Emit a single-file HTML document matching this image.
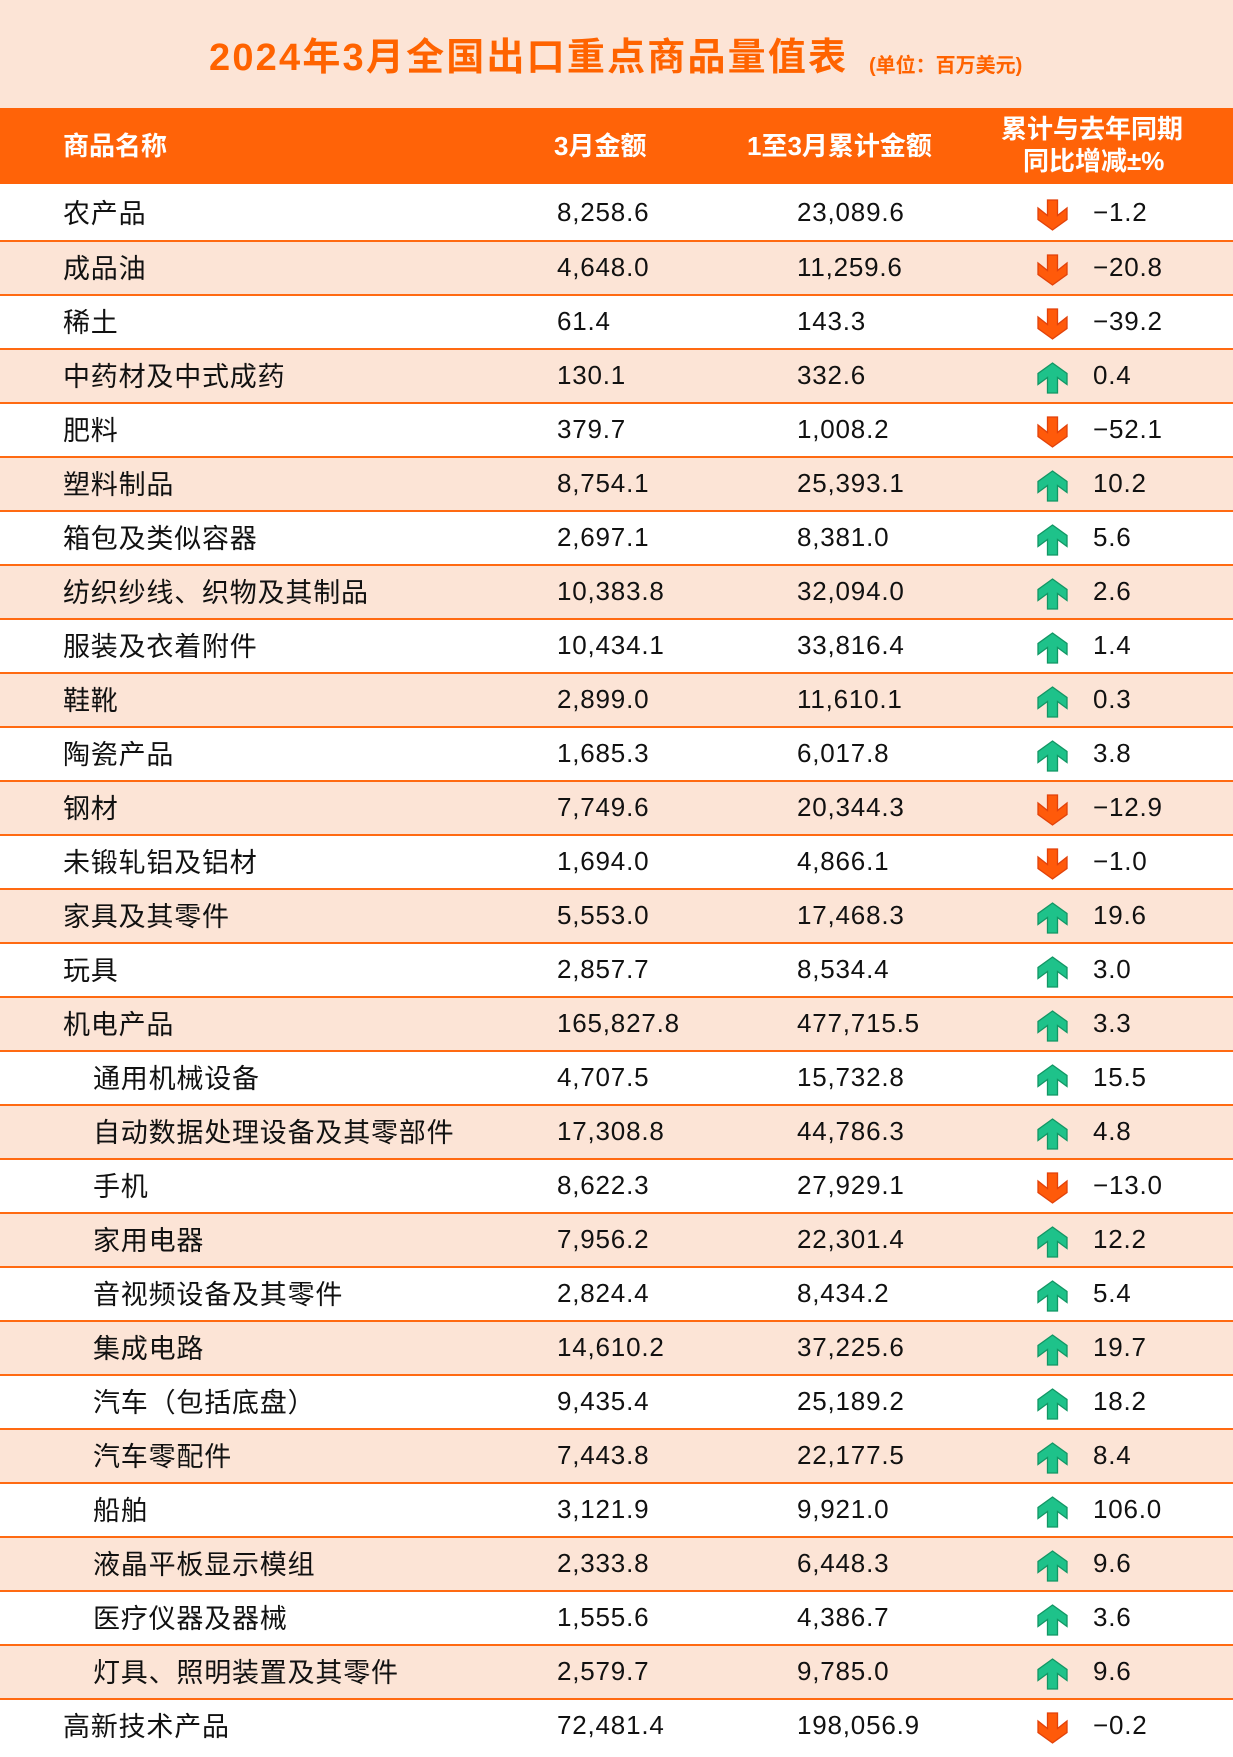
<!DOCTYPE html>
<html lang="zh">
<head>
<meta charset="utf-8">
<style>
*{margin:0;padding:0;box-sizing:border-box}
html,body{width:1233px;height:1757px;overflow:hidden;background:#fff}
#w{position:relative;width:1233px;height:1757px;overflow:hidden;background:#fff;font-family:"Liberation Sans","Noto Sans CJK SC",sans-serif;color:#111}
#tb{position:absolute;left:0;top:0;width:1233px;height:108px;background:#fce4d6}
#title{position:absolute;left:209px;top:33px;font-size:38px;line-height:50px;font-weight:bold;color:#ff6300;letter-spacing:2.2px;white-space:nowrap}
#sub{position:absolute;left:869px;top:52px;font-size:20px;line-height:28px;font-weight:bold;color:#ff6300;white-space:nowrap}
#hd{position:absolute;left:0;top:108px;width:1233px;height:76px;background:#ff6308;color:#fff;font-weight:bold;font-size:26px}
#hd span{position:absolute;white-space:nowrap;line-height:32px}
.r{position:absolute;left:0;width:1233px;height:54px;border-top:2px solid #ff6a12;background:#fff}
.r.alt{background:#fce4d6}
.r.first{top:184px;height:56px;border-top:0}
.r span{position:absolute;top:-3px;line-height:56px;white-space:nowrap}
.r span.n{top:-1px}
.r.first span{top:0px}
.r.first span.n{top:2px}
.n{left:63px;font-size:27px;letter-spacing:0.8px}
.n.in{left:93px}
.a{left:557px;font-size:26px;letter-spacing:0.8px}
.b{left:797px;font-size:26px;letter-spacing:0.8px}
.c{left:1093px;font-size:26px;letter-spacing:0.8px}
.r svg{position:absolute;left:1037px;top:12px;width:31px;height:32px}
.r.first svg{top:15px}
</style>
</head>
<body>
<div id="w">
<svg width="0" height="0" style="position:absolute">
<defs>
<polygon id="dn" points="10.5,1 20.5,1 20.5,16.5 30,9 30,20.5 15.5,31 1,20.5 1,9 10.5,16.5" fill="#ff5a0a" stroke="#e2420a" stroke-width="1.3" stroke-linejoin="miter"/>
<polygon id="up" points="15.5,1 30,11.5 30,22.5 20.5,15.5 20.5,31 10.5,31 10.5,15.5 1,22.5 1,11.5" fill="#1ec28a" stroke="#129664" stroke-width="1.3" stroke-linejoin="miter"/>
</defs>
</svg>
<div id="tb"></div>
<div id="title">2024年3月全国出口重点商品量值表</div>
<div id="sub">(单位：百万美元)</div>
<div id="hd">
<span style="left:63px;top:22px">商品名称</span>
<span style="left:554px;top:22px">3月金额</span>
<span style="left:747px;top:22px">1至3月累计金额</span>
<span style="left:1001px;top:5px">累计与去年同期</span>
<span style="left:1023px;top:37px">同比增减±%</span>
</div>

<div class="r first"><span class="n">农产品</span><span class="a">8,258.6</span><span class="b">23,089.6</span><svg viewBox="0 0 31 32"><use href="#dn"/></svg><span class="c">−1.2</span></div>
<div class="r alt" style="top:240px"><span class="n">成品油</span><span class="a">4,648.0</span><span class="b">11,259.6</span><svg viewBox="0 0 31 32"><use href="#dn"/></svg><span class="c">−20.8</span></div>
<div class="r" style="top:294px"><span class="n">稀土</span><span class="a">61.4</span><span class="b">143.3</span><svg viewBox="0 0 31 32"><use href="#dn"/></svg><span class="c">−39.2</span></div>
<div class="r alt" style="top:348px"><span class="n">中药材及中式成药</span><span class="a">130.1</span><span class="b">332.6</span><svg viewBox="0 0 31 32"><use href="#up"/></svg><span class="c">0.4</span></div>
<div class="r" style="top:402px"><span class="n">肥料</span><span class="a">379.7</span><span class="b">1,008.2</span><svg viewBox="0 0 31 32"><use href="#dn"/></svg><span class="c">−52.1</span></div>
<div class="r alt" style="top:456px"><span class="n">塑料制品</span><span class="a">8,754.1</span><span class="b">25,393.1</span><svg viewBox="0 0 31 32"><use href="#up"/></svg><span class="c">10.2</span></div>
<div class="r" style="top:510px"><span class="n">箱包及类似容器</span><span class="a">2,697.1</span><span class="b">8,381.0</span><svg viewBox="0 0 31 32"><use href="#up"/></svg><span class="c">5.6</span></div>
<div class="r alt" style="top:564px"><span class="n">纺织纱线、织物及其制品</span><span class="a">10,383.8</span><span class="b">32,094.0</span><svg viewBox="0 0 31 32"><use href="#up"/></svg><span class="c">2.6</span></div>
<div class="r" style="top:618px"><span class="n">服装及衣着附件</span><span class="a">10,434.1</span><span class="b">33,816.4</span><svg viewBox="0 0 31 32"><use href="#up"/></svg><span class="c">1.4</span></div>
<div class="r alt" style="top:672px"><span class="n">鞋靴</span><span class="a">2,899.0</span><span class="b">11,610.1</span><svg viewBox="0 0 31 32"><use href="#up"/></svg><span class="c">0.3</span></div>
<div class="r" style="top:726px"><span class="n">陶瓷产品</span><span class="a">1,685.3</span><span class="b">6,017.8</span><svg viewBox="0 0 31 32"><use href="#up"/></svg><span class="c">3.8</span></div>
<div class="r alt" style="top:780px"><span class="n">钢材</span><span class="a">7,749.6</span><span class="b">20,344.3</span><svg viewBox="0 0 31 32"><use href="#dn"/></svg><span class="c">−12.9</span></div>
<div class="r" style="top:834px"><span class="n">未锻轧铝及铝材</span><span class="a">1,694.0</span><span class="b">4,866.1</span><svg viewBox="0 0 31 32"><use href="#dn"/></svg><span class="c">−1.0</span></div>
<div class="r alt" style="top:888px"><span class="n">家具及其零件</span><span class="a">5,553.0</span><span class="b">17,468.3</span><svg viewBox="0 0 31 32"><use href="#up"/></svg><span class="c">19.6</span></div>
<div class="r" style="top:942px"><span class="n">玩具</span><span class="a">2,857.7</span><span class="b">8,534.4</span><svg viewBox="0 0 31 32"><use href="#up"/></svg><span class="c">3.0</span></div>
<div class="r alt" style="top:996px"><span class="n">机电产品</span><span class="a">165,827.8</span><span class="b">477,715.5</span><svg viewBox="0 0 31 32"><use href="#up"/></svg><span class="c">3.3</span></div>
<div class="r" style="top:1050px"><span class="n in">通用机械设备</span><span class="a">4,707.5</span><span class="b">15,732.8</span><svg viewBox="0 0 31 32"><use href="#up"/></svg><span class="c">15.5</span></div>
<div class="r alt" style="top:1104px"><span class="n in">自动数据处理设备及其零部件</span><span class="a">17,308.8</span><span class="b">44,786.3</span><svg viewBox="0 0 31 32"><use href="#up"/></svg><span class="c">4.8</span></div>
<div class="r" style="top:1158px"><span class="n in">手机</span><span class="a">8,622.3</span><span class="b">27,929.1</span><svg viewBox="0 0 31 32"><use href="#dn"/></svg><span class="c">−13.0</span></div>
<div class="r alt" style="top:1212px"><span class="n in">家用电器</span><span class="a">7,956.2</span><span class="b">22,301.4</span><svg viewBox="0 0 31 32"><use href="#up"/></svg><span class="c">12.2</span></div>
<div class="r" style="top:1266px"><span class="n in">音视频设备及其零件</span><span class="a">2,824.4</span><span class="b">8,434.2</span><svg viewBox="0 0 31 32"><use href="#up"/></svg><span class="c">5.4</span></div>
<div class="r alt" style="top:1320px"><span class="n in">集成电路</span><span class="a">14,610.2</span><span class="b">37,225.6</span><svg viewBox="0 0 31 32"><use href="#up"/></svg><span class="c">19.7</span></div>
<div class="r" style="top:1374px"><span class="n in">汽车（包括底盘）</span><span class="a">9,435.4</span><span class="b">25,189.2</span><svg viewBox="0 0 31 32"><use href="#up"/></svg><span class="c">18.2</span></div>
<div class="r alt" style="top:1428px"><span class="n in">汽车零配件</span><span class="a">7,443.8</span><span class="b">22,177.5</span><svg viewBox="0 0 31 32"><use href="#up"/></svg><span class="c">8.4</span></div>
<div class="r" style="top:1482px"><span class="n in">船舶</span><span class="a">3,121.9</span><span class="b">9,921.0</span><svg viewBox="0 0 31 32"><use href="#up"/></svg><span class="c">106.0</span></div>
<div class="r alt" style="top:1536px"><span class="n in">液晶平板显示模组</span><span class="a">2,333.8</span><span class="b">6,448.3</span><svg viewBox="0 0 31 32"><use href="#up"/></svg><span class="c">9.6</span></div>
<div class="r" style="top:1590px"><span class="n in">医疗仪器及器械</span><span class="a">1,555.6</span><span class="b">4,386.7</span><svg viewBox="0 0 31 32"><use href="#up"/></svg><span class="c">3.6</span></div>
<div class="r alt" style="top:1644px"><span class="n in">灯具、照明装置及其零件</span><span class="a">2,579.7</span><span class="b">9,785.0</span><svg viewBox="0 0 31 32"><use href="#up"/></svg><span class="c">9.6</span></div>
<div class="r" style="top:1698px;height:59px"><span class="n">高新技术产品</span><span class="a">72,481.4</span><span class="b">198,056.9</span><svg viewBox="0 0 31 32"><use href="#dn"/></svg><span class="c">−0.2</span></div>
</div>
</body>
</html>
